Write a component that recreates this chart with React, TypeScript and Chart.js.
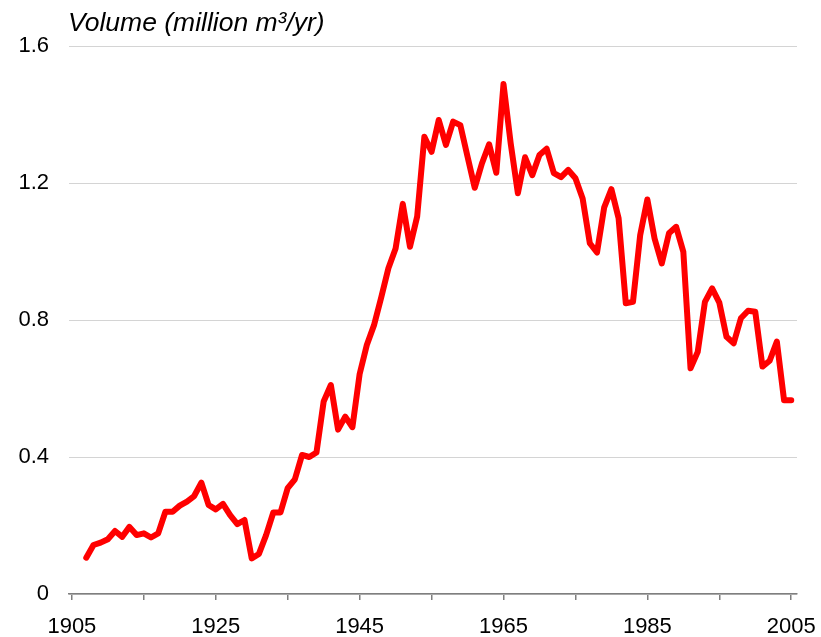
import React, { useEffect, useRef } from "react";
import { Chart, registerables } from "chart.js";

Chart.register(...registerables);

const titleText = "Volume (million m³/yr)";

const years = [
  1907, 1908, 1909, 1910, 1911, 1912, 1913, 1914, 1915, 1916,
  1917, 1918, 1919, 1920, 1921, 1922, 1923, 1924, 1925, 1926,
  1927, 1928, 1929, 1930, 1931, 1932, 1933, 1934, 1935, 1936,
  1937, 1938, 1939, 1940, 1941, 1942, 1943, 1944, 1945, 1946,
  1947, 1948, 1949, 1950, 1951, 1952, 1953, 1954, 1955, 1956,
  1957, 1958, 1959, 1960, 1961, 1962, 1963, 1964, 1965, 1966,
  1967, 1968, 1969, 1970, 1971, 1972, 1973, 1974, 1975, 1976,
  1977, 1978, 1979, 1980, 1981, 1982, 1983, 1984, 1985, 1986,
  1987, 1988, 1989, 1990, 1991, 1992, 1993, 1994, 1995, 1996,
  1997, 1998, 1999, 2000, 2001, 2002, 2003, 2004, 2005,
];

const volumes = [
  0.106, 0.143, 0.15, 0.16, 0.184, 0.167, 0.196, 0.172, 0.177, 0.165,
  0.177, 0.24, 0.24, 0.258, 0.27, 0.286, 0.325, 0.26, 0.247, 0.263,
  0.23, 0.204, 0.216, 0.104, 0.117, 0.172, 0.238, 0.238, 0.309, 0.335,
  0.406, 0.4, 0.413, 0.562, 0.61, 0.48, 0.518, 0.487, 0.642, 0.727,
  0.785, 0.866, 0.951, 1.009, 1.139, 1.014, 1.102, 1.335, 1.291, 1.384,
  1.311, 1.379, 1.369, 1.277, 1.186, 1.257, 1.313, 1.23, 1.489, 1.316,
  1.17, 1.275, 1.223, 1.282, 1.3, 1.229, 1.217, 1.238, 1.214, 1.155,
  1.024, 0.997, 1.129, 1.182, 1.097, 0.849, 0.853, 1.048, 1.152, 1.038,
  0.965, 1.053, 1.072, 0.999, 0.659, 0.707, 0.853, 0.892, 0.851, 0.751,
  0.732, 0.805, 0.827, 0.824, 0.664, 0.681, 0.737, 0.566, 0.566,
];

const xTickMarks = [1905, 1915, 1925, 1935, 1945, 1955, 1965, 1975, 1985, 1995, 2005];
const xTickLabels = [1905, 1925, 1945, 1965, 1985, 2005];
const yTicks = [0, 0.4, 0.8, 1.2, 1.6];
const yTickLabels = ["0", "0.4", "0.8", "1.2", "1.6"];

const FONT = '"Liberation Sans", Arial, Helvetica, sans-serif';

const titlePlugin = {
  id: "cornerTitle",
  afterDraw(chart: any) {
    const ctx = chart.ctx;
    ctx.save();
    ctx.font = `italic 26.5px ${FONT}`;
    ctx.fillStyle = "#000000";
    ctx.textAlign = "left";
    ctx.textBaseline = "alphabetic";
    ctx.fillText(titleText, chart.chartArea.left - 1, 31);
    ctx.restore();
  },
};

export default function App() {
  const canvasRef = useRef<HTMLCanvasElement | null>(null);

  useEffect(() => {
    if (!canvasRef.current) return;
    const chart = new Chart(canvasRef.current, {
      type: "line",
      data: {
        datasets: [
          {
            label: "Volume",
            data: years.map((y, i) => ({ x: y, y: volumes[i] })),
            borderColor: "#ff0000",
            backgroundColor: "#ff0000",
            borderWidth: 6,
            pointRadius: 0,
            tension: 0,
            borderJoinStyle: "round",
            borderCapStyle: "round",
            fill: false,
          },
        ],
      },
      options: {
        responsive: false,
        animation: false,
        layout: { padding: { top: 46, right: 24, bottom: 0, left: 0 } },
        plugins: {
          legend: { display: false },
          tooltip: { enabled: false },
          title: { display: false },
        },
        scales: {
          x: {
            type: "linear",
            min: 1904.6,
            max: 2005.8,
            afterBuildTicks: (scale: any) => {
              scale.ticks = xTickMarks.map((v) => ({ value: v }));
            },
            afterFit: (scale: any) => {
              scale.height = 43;
              scale.paddingLeft = 0;
              scale.paddingRight = 0;
            },
            ticks: {
              autoSkip: false,
              maxRotation: 0,
              padding: 14,
              color: "#000000",
              font: { family: FONT, size: 22 },
              callback: (v: any) => (xTickLabels.includes(Number(v)) ? String(v) : ""),
            },
            grid: {
              drawOnChartArea: false,
              drawTicks: true,
              tickLength: 6,
              color: "#7f7f7f",
              lineWidth: 1.5,
            },
            border: { display: true, color: "#7f7f7f", width: 1.5 },
          },
          y: {
            type: "linear",
            min: 0,
            max: 1.6,
            afterBuildTicks: (scale: any) => {
              scale.ticks = yTicks.map((v) => ({ value: v }));
            },
            afterFit: (scale: any) => {
              scale.width = 69;
              scale.paddingTop = 0;
              scale.paddingBottom = 0;
            },
            ticks: {
              padding: 20,
              color: "#000000",
              font: { family: FONT, size: 22 },
              callback: (v: any) => {
                const idx = yTicks.indexOf(Number(v));
                return idx >= 0 ? yTickLabels[idx] : "";
              },
            },
            grid: {
              drawTicks: false,
              color: "#d4d4d4",
              lineWidth: 1,
            },
            border: { display: false },
          },
        },
      },
      plugins: [titlePlugin],
    });
    return () => chart.destroy();
  }, []);

  return (
    <div style={{ position: "absolute", left: 0, top: 0, width: 821, height: 637, background: "#ffffff" }}>
      <canvas ref={canvasRef} width={821} height={637} style={{ display: "block" }} />
    </div>
  );
}
